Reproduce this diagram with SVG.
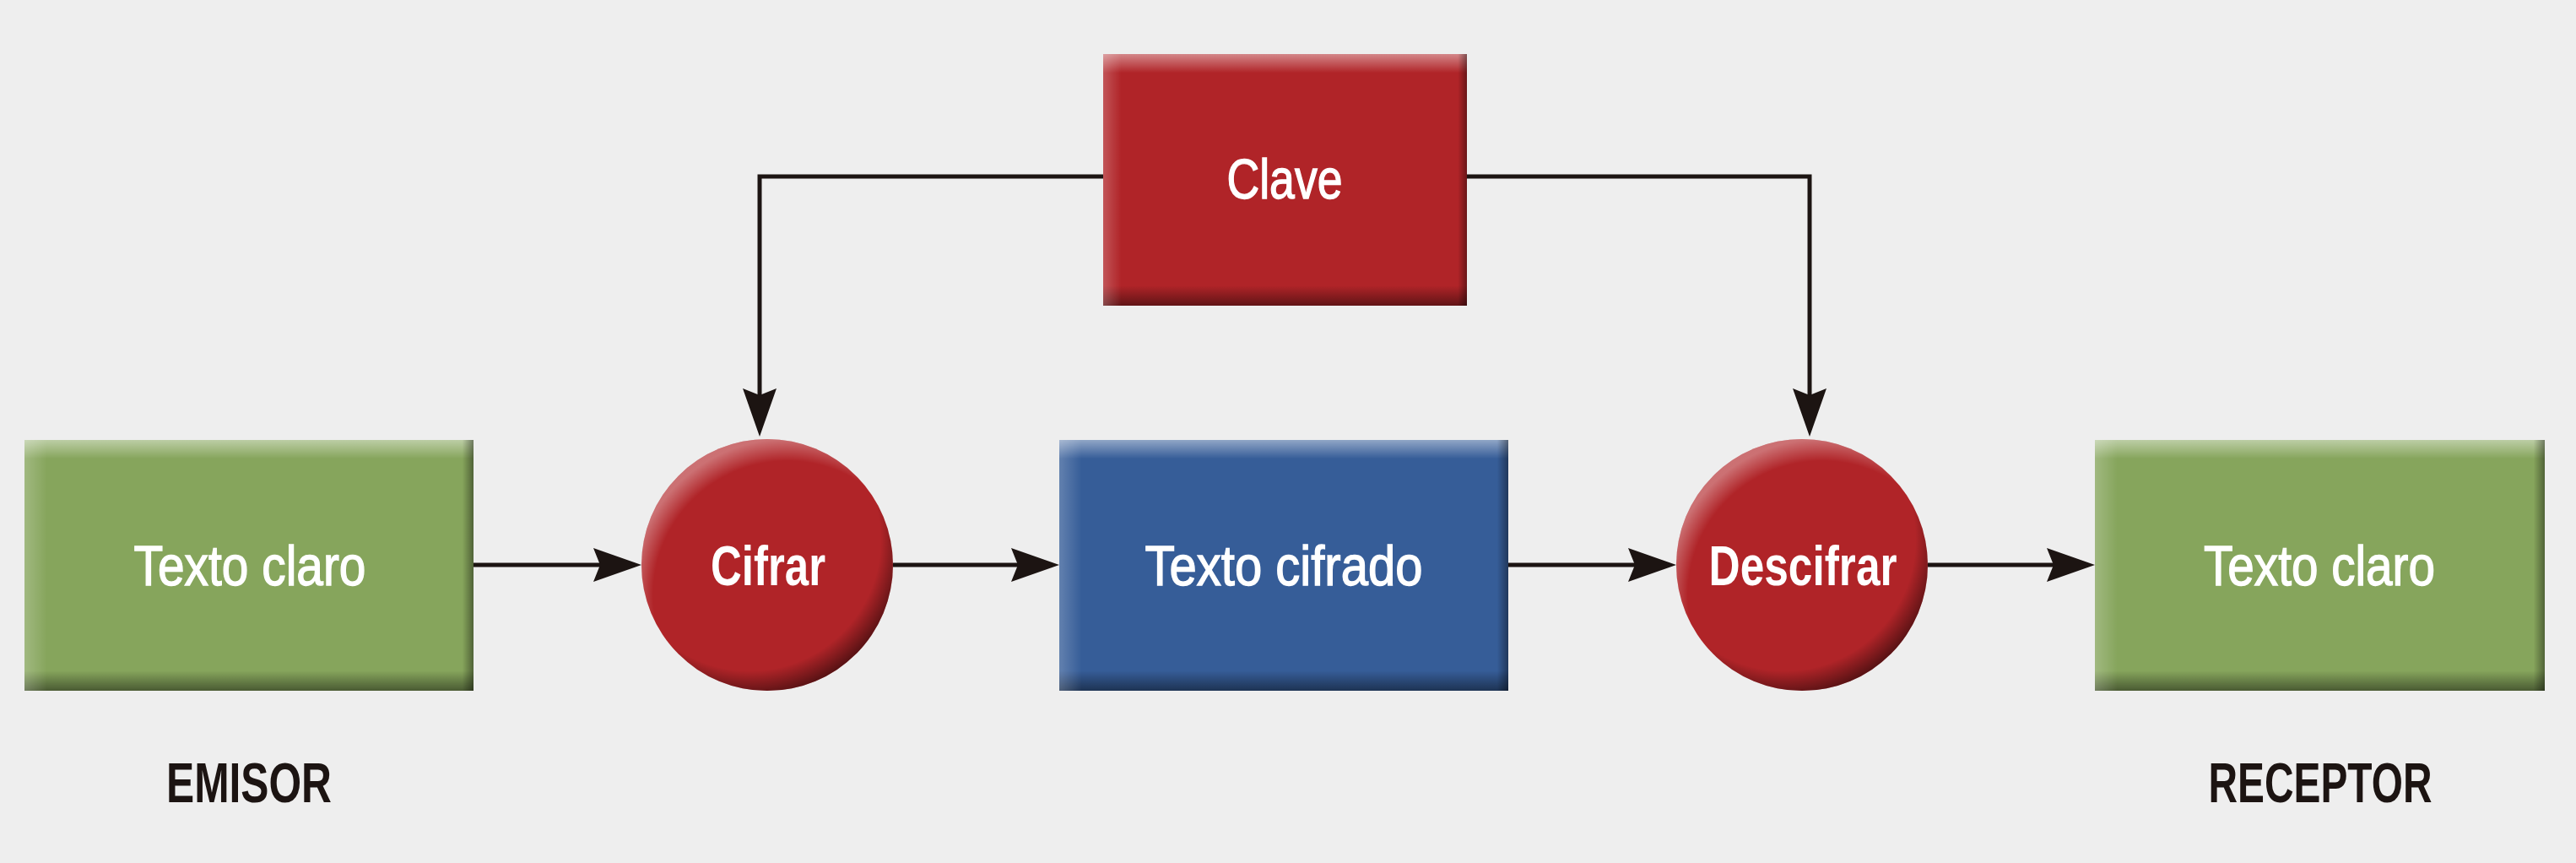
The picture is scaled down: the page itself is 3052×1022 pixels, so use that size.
<svg xmlns="http://www.w3.org/2000/svg" width="3052" height="1022" viewBox="0 0 3052 1022">
  <style>
    .lbl { font-family: "Liberation Sans", Arial, sans-serif; font-size: 66px; fill: #ffffff; stroke: #ffffff; stroke-width: 1.4px; text-anchor: middle; }
    .b { font-weight: bold; stroke-width: 0; }
    .side { font-family: "Liberation Sans", Arial, sans-serif; font-size: 66px; font-weight: bold; fill: #1c1412; text-anchor: middle; }
    .con { fill: none; stroke: #1c1412; stroke-width: 5; marker-end: url(#arr); }
  </style>
  <defs>
    <marker id="arr" markerUnits="userSpaceOnUse" markerWidth="58" markerHeight="42" refX="49" refY="21" orient="auto" overflow="visible">
      <path d="M0,1 L57,21 L0,41 L8,21 Z" fill="#1c1412"/>
    </marker>
    <linearGradient id="bevV" x1="0" y1="0" x2="0" y2="1">
      <stop offset="0" stop-color="#fff" stop-opacity="0.45"/>
      <stop offset="0.075" stop-color="#fff" stop-opacity="0"/>
      <stop offset="0.92" stop-color="#000" stop-opacity="0"/>
      <stop offset="1" stop-color="#000" stop-opacity="0.45"/>
    </linearGradient>
    <linearGradient id="bevH" x1="0" y1="0" x2="1" y2="0">
      <stop offset="0" stop-color="#fff" stop-opacity="0.22"/>
      <stop offset="0.05" stop-color="#fff" stop-opacity="0"/>
      <stop offset="0.975" stop-color="#000" stop-opacity="0"/>
      <stop offset="1" stop-color="#000" stop-opacity="0.4"/>
    </linearGradient>
    <radialGradient id="cDark" cx="0.43" cy="0.40" r="0.62">
      <stop offset="0.84" stop-color="#000" stop-opacity="0"/>
      <stop offset="1" stop-color="#000" stop-opacity="0.5"/>
    </radialGradient>
    <radialGradient id="cLight" cx="0.58" cy="0.62" r="0.62">
      <stop offset="0.86" stop-color="#fff" stop-opacity="0"/>
      <stop offset="1" stop-color="#fff" stop-opacity="0.35"/>
    </radialGradient>
  </defs>

  <rect width="3052" height="1022" fill="#eeeeee"/>

  <g id="connectors">
    <path class="con" d="M1307 209 H900 V509"/>
    <path class="con" d="M1738 209 H2144 V509"/>
    <path class="con" d="M561 669 H752"/>
    <path class="con" d="M1058 669 H1247"/>
    <path class="con" d="M1787 669 H1978"/>
    <path class="con" d="M2284 669 H2474"/>
  </g>

  <g id="clave">
    <rect x="1307" y="64" width="431" height="298" fill="#b02428"/>
    <rect x="1307" y="64" width="431" height="298" fill="url(#bevV)"/>
    <rect x="1307" y="64" width="431" height="298" fill="url(#bevH)"/>
    <text class="lbl" x="1522" y="235" textLength="137" lengthAdjust="spacingAndGlyphs">Clave</text>
  </g>

  <g id="texto-claro-emisor">
    <rect x="29" y="521" width="532" height="297" fill="#86a55c"/>
    <rect x="29" y="521" width="532" height="297" fill="url(#bevV)"/>
    <rect x="29" y="521" width="532" height="297" fill="url(#bevH)"/>
    <text class="lbl" x="296" y="693" textLength="275" lengthAdjust="spacingAndGlyphs">Texto claro</text>
  </g>

  <g id="cifrar">
    <circle cx="909" cy="669" r="149" fill="#b02428"/>
    <circle cx="909" cy="669" r="149" fill="url(#cDark)"/>
    <circle cx="909" cy="669" r="149" fill="url(#cLight)"/>
    <text class="lbl b" x="910" y="693" textLength="136" lengthAdjust="spacingAndGlyphs">Cifrar</text>
  </g>

  <g id="texto-cifrado">
    <rect x="1255" y="521" width="532" height="297" fill="#365d98"/>
    <rect x="1255" y="521" width="532" height="297" fill="url(#bevV)"/>
    <rect x="1255" y="521" width="532" height="297" fill="url(#bevH)"/>
    <text class="lbl" x="1521" y="693" textLength="329" lengthAdjust="spacingAndGlyphs">Texto cifrado</text>
  </g>

  <g id="descifrar">
    <circle cx="2135" cy="669" r="149" fill="#b02428"/>
    <circle cx="2135" cy="669" r="149" fill="url(#cDark)"/>
    <circle cx="2135" cy="669" r="149" fill="url(#cLight)"/>
    <text class="lbl b" x="2136" y="693" textLength="223" lengthAdjust="spacingAndGlyphs">Descifrar</text>
  </g>

  <g id="texto-claro-receptor">
    <rect x="2482" y="521" width="533" height="297" fill="#86a55c"/>
    <rect x="2482" y="521" width="533" height="297" fill="url(#bevV)"/>
    <rect x="2482" y="521" width="533" height="297" fill="url(#bevH)"/>
    <text class="lbl" x="2748" y="693" textLength="274" lengthAdjust="spacingAndGlyphs">Texto claro</text>
  </g>

  <g id="emisor">
    <text class="side" x="295" y="950" textLength="196" lengthAdjust="spacingAndGlyphs">EMISOR</text>
  </g>
  <g id="receptor">
    <text class="side" x="2749" y="950" textLength="265" lengthAdjust="spacingAndGlyphs">RECEPTOR</text>
  </g>
</svg>
